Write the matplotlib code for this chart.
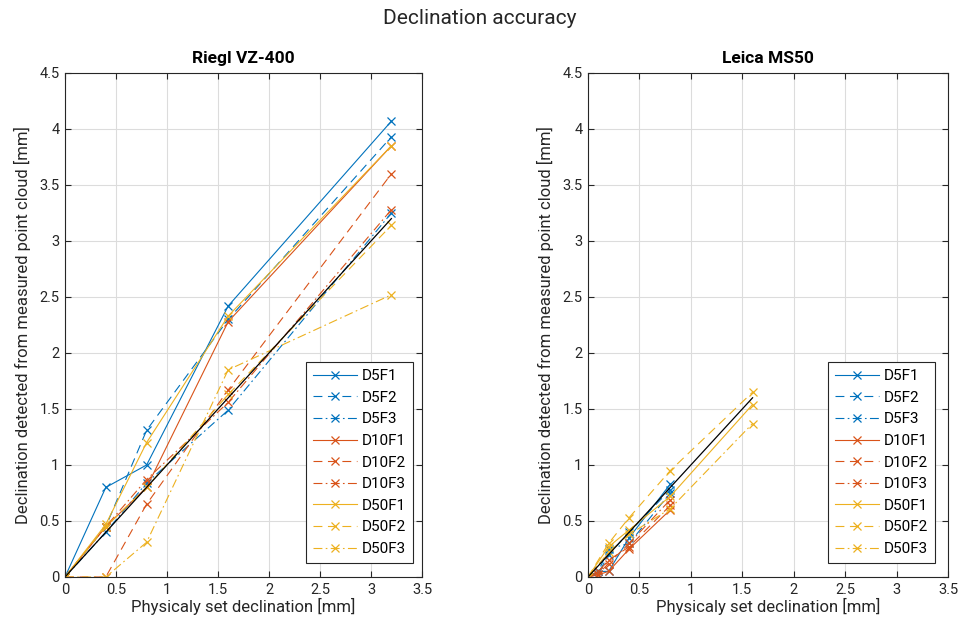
import matplotlib
matplotlib.use("Agg")
import matplotlib.pyplot as plt

plt.rcParams['font.family'] = ['Roboto', 'DejaVu Sans']

labels = ["D5F1", "D5F2", "D5F3", "D10F1", "D10F2", "D10F3", "D50F1", "D50F2", "D50F3"]

# Riegl VZ-400
riegl_x = [0, 0.4, 0.8, 1.6, 3.2]
riegl_y = {
    "D5F1":  [0, 0.80, 1.00, 2.42, 4.07],
    "D5F2":  [0, 0.45, 1.31, 2.30, 3.93],
    "D5F3":  [0, 0.40, 0.84, 1.49, 3.25],
    "D10F1": [0, 0.45, 0.80, 2.28, 3.85],
    "D10F2": [0, 0.00, 0.65, 1.67, 3.60],
    "D10F3": [0, 0.45, 0.87, 1.56, 3.28],
    "D50F1": [0, 0.47, 1.20, 2.33, 3.85],
    "D50F2": [0, 0.45, 0.80, 1.63, 3.14],
    "D50F3": [0, 0.00, 0.31, 1.85, 2.52],
}
riegl_ref = [0, 3.2]

# Leica MS50
leica_x_small = [0, 0.1, 0.2, 0.4, 0.8]
leica_x_large = [0, 0.2, 0.4, 0.8, 1.6]
leica_y = {
    "D5F1":  [0, 0.05, 0.05, 0.35, 0.83],
    "D5F2":  [0, 0.03, 0.20, 0.40, 0.78],
    "D5F3":  [0, 0.05, 0.25, 0.30, 0.75],
    "D10F1": [0, 0.02, 0.05, 0.25, 0.60],
    "D10F2": [0, 0.05, 0.15, 0.27, 0.64],
    "D10F3": [0, 0.03, 0.12, 0.30, 0.69],
    "D50F1": [0, 0.27, 0.42, 0.72, 1.54],
    "D50F2": [0, 0.30, 0.53, 0.95, 1.65],
    "D50F3": [0, 0.22, 0.38, 0.61, 1.37],
}
leica_ref = [0, 1.6]

xticks = [0, 0.5, 1, 1.5, 2, 2.5, 3, 3.5]
xticklabels = ["0", "0.5", "1", "1.5", "2", "2.5", "3", "3.5"]
yticks = [0, 0.5, 1, 1.5, 2, 2.5, 3, 3.5, 4, 4.5]
yticklabels = ["0", "0.5", "1", "1.5", "2", "2.5", "3", "3.5", "4", "4.5"]

colors = {"D5": "#0072BD", "D10": "#D95319", "D50": "#EDB120"}
styles = {"F1": "-", "F2": (0, (8, 5)), "F3": (0, (8, 3, 1.5, 3))}

W, H = 959, 630
fig = plt.figure(figsize=(W/100, H/100), dpi=100)
ax1 = fig.add_axes([65/W, 1-577/H, (422-65)/W, (577-73)/H])
ax2 = fig.add_axes([588/W, 1-577/H, (948-588)/W, (577-73)/H])

def style_axes(ax, title):
    ax.set_xlim(0, 3.5)
    ax.set_ylim(0, 4.5)
    ax.set_xticks(xticks)
    ax.set_xticklabels(xticklabels)
    ax.set_yticks(yticks)
    ax.set_yticklabels(yticklabels)
    ax.grid(True, color="#dcdcdc", linewidth=0.8)
    ax.set_axisbelow(True)
    ax.tick_params(direction="in", top=True, right=True, length=4,
                   labelsize=10.5, colors="#262626", width=0.8, pad=4)
    for s in ax.spines.values():
        s.set_color("#262626")
        s.set_linewidth(0.8)
    ax.set_xlabel("Physicaly set declination [mm]", fontsize=12, color="#262626", labelpad=1)
    ax.set_ylabel("Declination detected from measured point cloud [mm]", fontsize=12, color="#262626", labelpad=6)
    ax.set_title(title, fontsize=12.5, fontweight="bold", pad=7)

def series_style(lab):
    d = lab[:lab.index("F")]
    f = lab[lab.index("F"):]
    return colors[d], styles[f]

for lab in labels:
    c, ls = series_style(lab)
    ax1.plot(riegl_x, riegl_y[lab], color=c, linestyle=ls, linewidth=0.8,
             marker="x", markersize=6, markeredgewidth=0.9, label=lab)
ax1.plot(riegl_ref, riegl_ref, color="black", linewidth=0.9)

for lab in labels:
    c, ls = series_style(lab)
    xs = leica_x_large if lab.startswith("D50") else leica_x_small
    ax2.plot(xs, leica_y[lab], color=c, linestyle=ls, linewidth=0.8,
             marker="x", markersize=6, markeredgewidth=0.9, label=lab)
ax2.plot(leica_ref, leica_ref, color="black", linewidth=0.9)

style_axes(ax1, "Riegl VZ-400")
style_axes(ax2, "Leica MS50")

for ax, (ax_l, ax_r, leg_r) in ((ax1, (65, 422, 413)), (ax2, (588, 948, 935))):
    leg = ax.legend(loc="lower right",
                    bbox_to_anchor=((leg_r - ax_l) / (ax_r - ax_l), 14 / 504),
                    fontsize=11, fancybox=False, framealpha=1,
                    edgecolor="#262626", handlelength=2.9, labelspacing=0.5,
                    borderpad=0.45, handletextpad=0.3, borderaxespad=0)
    leg.get_frame().set_linewidth(0.8)

fig.suptitle("Declination accuracy", fontsize=15, y=0.985, color="#262626")
fig.savefig("out.png", dpi=100)
